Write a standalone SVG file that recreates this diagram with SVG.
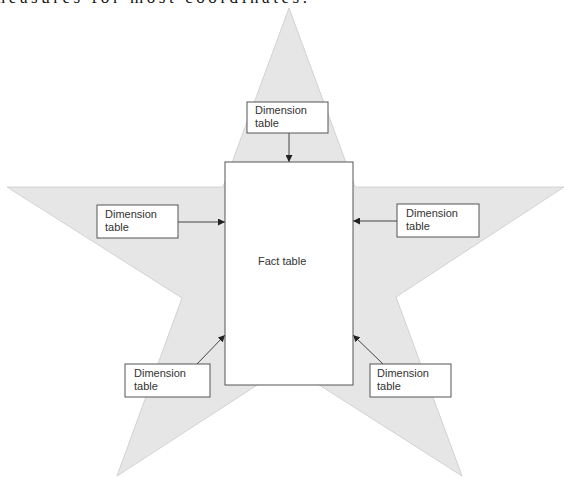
<svg xmlns="http://www.w3.org/2000/svg" width="564" height="477" viewBox="0 0 564 477">
<style>
.box{fill:#fff;stroke:#555;stroke-width:1}
.t{font-family:"Liberation Sans",Arial,sans-serif;font-size:11px;fill:#333}
.c{stroke:#444;stroke-width:1;fill:none}
</style>
<defs>
<marker id="ah" viewBox="0 0 10 10" refX="10" refY="5" markerWidth="7" markerHeight="7" markerUnits="userSpaceOnUse" orient="auto">
<path d="M0,0 L10,5 L0,10 z" fill="#222"/>
</marker>
</defs>
<rect width="564" height="477" fill="#fff"/>
<text x="-8" y="3" textLength="315" lengthAdjust="spacing" font-family="Liberation Serif,serif" font-size="17" fill="#111">measures for most coordinates.</text>
<polygon points="289,8 355,187 564,187 396,297 462,476 288,365 117,476 182,298 7,187 223,187" fill="#e6e6e6" stroke="#d2d2d2" stroke-width="1"/>
<g id="connectors">
<line class="c" x1="289" y1="133" x2="289" y2="162" marker-end="url(#ah)"/>
<line class="c" x1="178" y1="222" x2="225" y2="222" marker-end="url(#ah)"/>
<line class="c" x1="397" y1="221" x2="353" y2="221" marker-end="url(#ah)"/>
<line class="c" x1="197" y1="364" x2="225" y2="335" marker-end="url(#ah)"/>
<line class="c" x1="383" y1="364" x2="353" y2="335" marker-end="url(#ah)"/>
</g>
<g id="fact">
<rect class="box" x="225" y="162" width="128" height="223"/>
<text class="t" x="258" y="265">Fact table</text>
</g>
<g id="dim-top">
<rect class="box" x="247" y="102" width="81" height="31"/>
<text class="t" x="255" y="114">Dimension</text>
<text class="t" x="255" y="127">table</text>
</g>
<g id="dim-left">
<rect class="box" x="97" y="205" width="81" height="33"/>
<text class="t" x="105" y="218">Dimension</text>
<text class="t" x="105" y="231">table</text>
</g>
<g id="dim-right">
<rect class="box" x="397" y="204" width="82" height="33"/>
<text class="t" x="406" y="217">Dimension</text>
<text class="t" x="406" y="230">table</text>
</g>
<g id="dim-bottom-left">
<rect class="box" x="125" y="364" width="85" height="33"/>
<text class="t" x="134" y="377">Dimension</text>
<text class="t" x="134" y="390">table</text>
</g>
<g id="dim-bottom-right">
<rect class="box" x="370" y="364" width="81" height="33"/>
<text class="t" x="377" y="377">Dimension</text>
<text class="t" x="377" y="390">table</text>
</g>
</svg>
